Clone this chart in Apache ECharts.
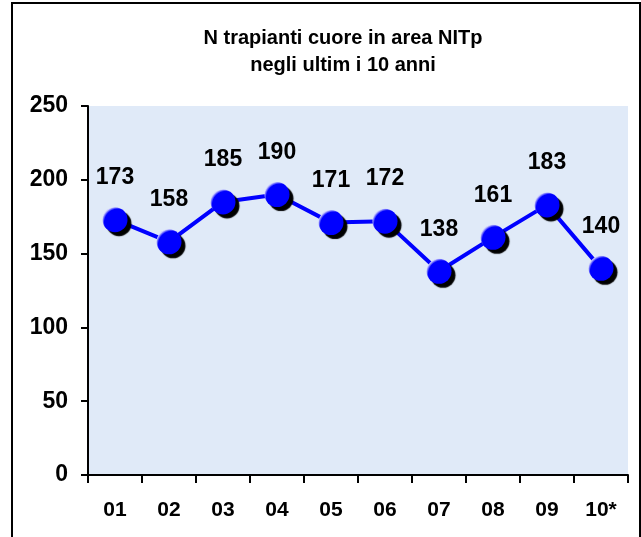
<!DOCTYPE html>
<html>
<head>
<meta charset="utf-8">
<script src="https://cdn.jsdelivr.net/npm/echarts@6/dist/echarts.min.js"></script>
<style>
  html, body { margin: 0; padding: 0; background: #fff; }
  #chart { width: 641px; height: 537px; }
</style>
</head>
<body>
<div id="chart"></div>
<script>
// anni (10* = dato parziale)
const years = ['01', '02', '03', '04', '05', '06', '07', '08', '09', '10*'];
const trapianti = [173, 158, 185, 190, 171, 172, 138, 161, 183, 140];
const yTicks = { min: 0, max: 250, interval: 50 };

const chart = echarts.init(document.getElementById('chart'), null, { renderer: 'canvas' });
const font = 'Liberation Sans, Arial, sans-serif';

chart.setOption({
  animation: false,
  title: {
    text: 'N trapianti cuore in area NITp\nnegli ultim i 10 anni',
    left: 338,
    top: 20,
    textAlign: 'center',
    textStyle: { fontFamily: font, fontSize: 20, fontWeight: 'bold', color: '#000', lineHeight: 27 }
  },
  graphic: [{
    type: 'rect',
    shape: { x: 12, y: 3, width: 628, height: 560 },
    style: { fill: null, stroke: '#000', lineWidth: 2 },
    silent: true
  }],
  grid: {
    left: 88, right: 13, top: 106, bottom: 62,
    show: true, backgroundColor: '#e0eaf8', borderWidth: 0
  },
  xAxis: {
    type: 'category',
    data: years,
    boundaryGap: true,
    axisLine: { lineStyle: { color: '#000', width: 2 } },
    axisTick: { show: true, length: 8, lineStyle: { color: '#000', width: 2 } },
    axisLabel: { color: '#000', fontFamily: font, fontSize: 21, fontWeight: 'bold', margin: 25 },
    splitLine: { show: false }
  },
  yAxis: {
    type: 'value',
    min: yTicks.min, max: yTicks.max, interval: yTicks.interval,
    axisLine: { show: true, lineStyle: { color: '#000', width: 2 } },
    axisTick: { show: true, length: 7, lineStyle: { color: '#000', width: 2 } },
    axisLabel: { color: '#000', fontFamily: font, fontSize: 23, fontWeight: 'bold', margin: 20 },
    splitLine: { show: false }
  },
  series: [{
    type: 'line',
    data: trapianti,
    symbol: 'circle',
    symbolSize: 25,
    lineStyle: { color: '#0000ff', width: 4 },
    itemStyle: {
      color: {
        type: 'radial', x: 0.6, y: 0.6, r: 0.62,
        colorStops: [
          { offset: 0, color: '#0000ff' },
          { offset: 0.84, color: '#0000ff' },
          { offset: 1, color: '#c8c8ff' }
        ]
      },
      shadowColor: '#000', shadowOffsetX: 4, shadowOffsetY: 4, shadowBlur: 1
    },
    label: {
      show: true, position: 'top', distance: 18,
      color: '#000', fontFamily: font, fontSize: 23, fontWeight: 'bold'
    }
  }]
});
</script>
</body>
</html>
